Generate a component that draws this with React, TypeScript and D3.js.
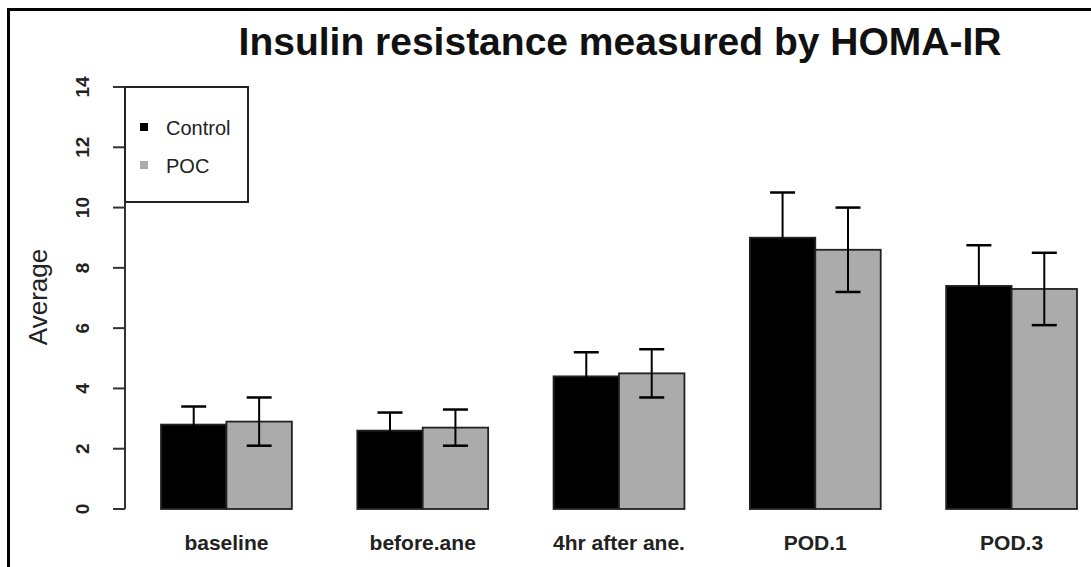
import { useEffect, useRef } from 'react';
import * as d3 from 'd3';

const categories = ['baseline', 'before.ane', '4hr after ane.', 'POD.1', 'POD.3'];
const seriesNames = ['Control', 'POC'];
const controlMean = [2.8, 2.6, 4.4, 9.0, 7.4];
const controlSd = [0.6, 0.6, 0.8, 1.5, 1.35];
const pocMean = [2.9, 2.7, 4.5, 8.6, 7.3];
const pocSd = [0.8, 0.6, 0.8, 1.4, 1.2];
const yTicks = [0, 2, 4, 6, 8, 10, 12, 14];
const colors = ['#000000', '#ababab'];

const App = () => {
    const svgRef = useRef(null);

    useEffect(() => {
        const svg = d3.select(svgRef.current);
        svg.selectAll('*').remove();

        const font = 'Liberation Sans, Arial, sans-serif';

        // outer frame (right and bottom fall outside the picture)
        svg.append('rect')
            .attr('x', 8.5).attr('y', 9.5)
            .attr('width', 1100).attr('height', 600)
            .attr('fill', 'none')
            .attr('stroke', '#000')
            .attr('stroke-width', 3);

        const data = categories.map((c, i) => ({
            cat: c,
            vals: [
                { s: seriesNames[0], m: controlMean[i], sd: controlSd[i] },
                { s: seriesNames[1], m: pocMean[i], sd: pocSd[i] },
            ],
        }));

        const x0 = d3.scaleBand().domain(categories).range([161, 1077]).paddingInner(1 / 3).paddingOuter(0);
        const x1 = d3.scaleBand().domain(seriesNames).range([0, x0.bandwidth()]);
        const y = d3.scaleLinear().domain([0, 14]).range([509, 87]);
        const color = d3.scaleOrdinal().domain(seriesNames).range(colors);

        // y axis
        const yAxis = svg.append('g').attr('transform', 'translate(125,0)');
        yAxis.append('line')
            .attr('y1', y(0)).attr('y2', y(14))
            .attr('stroke', '#333').attr('stroke-width', 2);
        yAxis.selectAll('.tick')
            .data(yTicks)
            .join('line')
            .attr('x1', -12).attr('x2', 0)
            .attr('y1', (d) => y(d)).attr('y2', (d) => y(d))
            .attr('stroke', '#333').attr('stroke-width', 2);
        yAxis.selectAll('text')
            .data(yTicks)
            .join('text')
            .attr('transform', (d) => `translate(-36,${y(d)}) rotate(-90)`)
            .attr('text-anchor', 'middle')
            .style('font-family', font)
            .style('font-size', '19px')
            .style('font-weight', 'bold')
            .attr('fill', '#222')
            .text((d) => d);

        svg.append('text')
            .attr('transform', `translate(47,297) rotate(-90)`)
            .attr('text-anchor', 'middle')
            .style('font-family', font)
            .style('font-size', '26px')
            .attr('fill', '#222')
            .text('Average');

        // bars
        const groups = svg.append('g')
            .selectAll('g')
            .data(data)
            .join('g')
            .attr('transform', (d) => `translate(${x0(d.cat)},0)`);

        groups.selectAll('rect')
            .data((d) => d.vals)
            .join('rect')
            .attr('x', (d) => x1(d.s))
            .attr('y', (d) => y(d.m))
            .attr('width', x1.bandwidth())
            .attr('height', (d) => y(0) - y(d.m))
            .attr('fill', (d) => color(d.s))
            .attr('stroke', '#222')
            .attr('stroke-width', 1.8);

        // error bars, drawn in black like R's arrows (lower half vanishes on black bars)
        const err = groups.selectAll('g.err')
            .data((d) => d.vals)
            .join('g')
            .attr('class', 'err')
            .attr('transform', (d) => `translate(${x1(d.s) + x1.bandwidth() / 2},0)`);
        err.append('line')
            .attr('y1', (d) => y(d.m - d.sd)).attr('y2', (d) => y(d.m + d.sd))
            .attr('stroke', '#000').attr('stroke-width', 2);
        err.append('line')
            .attr('x1', -12.5).attr('x2', 12.5)
            .attr('y1', (d) => y(d.m + d.sd)).attr('y2', (d) => y(d.m + d.sd))
            .attr('stroke', '#000').attr('stroke-width', 2.5);
        err.append('line')
            .attr('x1', -12.5).attr('x2', 12.5)
            .attr('y1', (d) => y(d.m - d.sd)).attr('y2', (d) => y(d.m - d.sd))
            .attr('stroke', '#000').attr('stroke-width', 2.5);

        // category labels
        svg.append('g')
            .selectAll('text')
            .data(categories)
            .join('text')
            .attr('x', (d) => x0(d) + x0.bandwidth() / 2)
            .attr('y', 550)
            .attr('text-anchor', 'middle')
            .style('font-family', font)
            .style('font-size', '21px')
            .style('font-weight', 'bold')
            .attr('fill', '#222')
            .text((d) => d);

        // legend
        svg.append('rect')
            .attr('x', 125).attr('y', 87)
            .attr('width', 123).attr('height', 115)
            .attr('fill', '#fff')
            .attr('stroke', '#222')
            .attr('stroke-width', 2);
        const leg = svg.append('g')
            .selectAll('g')
            .data(seriesNames)
            .join('g')
            .attr('transform', (d, i) => `translate(0,${127 + i * 38})`);
        leg.append('rect')
            .attr('x', 140).attr('y', -4)
            .attr('width', 8).attr('height', 8)
            .attr('fill', (d) => color(d));
        leg.append('text')
            .attr('x', 166).attr('y', 8)
            .style('font-family', font)
            .style('font-size', '20px')
            .attr('fill', '#222')
            .text((d) => d);

        // title
        svg.append('text')
            .attr('x', 620)
            .attr('y', 55)
            .attr('text-anchor', 'middle')
            .style('font-family', font)
            .style('font-size', '39px')
            .style('font-weight', 'bold')
            .attr('fill', '#111')
            .text('Insulin resistance measured by HOMA-IR');
    }, []);

    return (
        <svg
            ref={svgRef}
            width={1091}
            height={567}
            style={{ position: 'absolute', left: 0, top: 0, background: '#fff' }}
        />
    );
};

export default App;
